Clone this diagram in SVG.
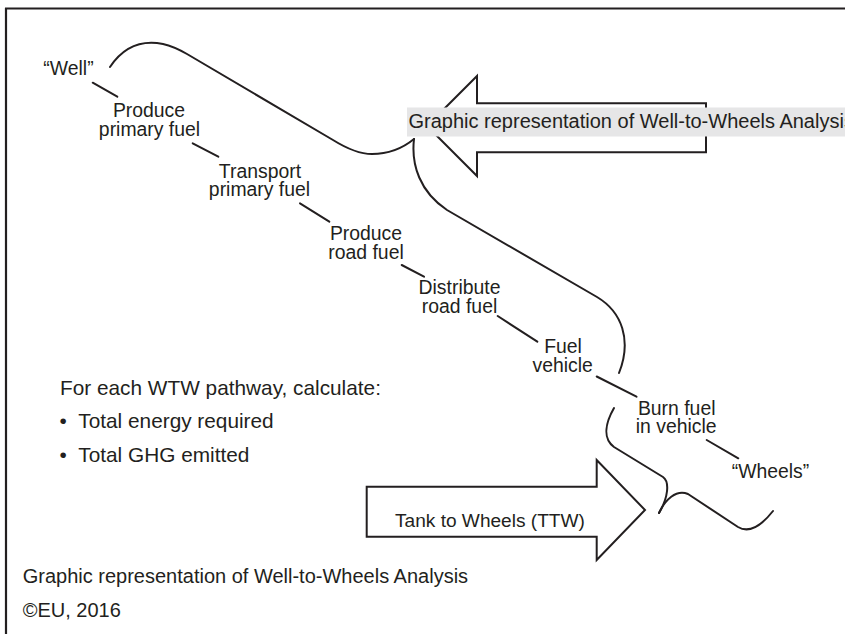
<svg xmlns="http://www.w3.org/2000/svg" width="845" height="634" viewBox="0 0 845 634">
  <style>
    text { font-family: "Liberation Sans", Arial, sans-serif; fill: #231f20; }
    .lbl { font-size: 19.4px; text-anchor: middle; }
    .note { font-size: 20.8px; }
    .cap { font-size: 20px; }
    .ln { fill: none; stroke: #231f20; stroke-width: 2; stroke-linecap: round; stroke-linejoin: round; }
    .arrow { fill: #ffffff; stroke: #231f20; stroke-width: 2; stroke-linejoin: miter; }
  </style>

  <rect x="0" y="0" width="845" height="634" fill="#ffffff"/>

  <!-- frame -->
  <g id="frame">
    <line x1="5" y1="8.5" x2="845" y2="8.5" stroke="#231f20" stroke-width="2.2"/>
    <line x1="6" y1="8" x2="6" y2="634" stroke="#231f20" stroke-width="2.2"/>
  </g>

  <!-- braces grouping the pathway stages -->
  <g id="braces">
    <path class="ln" d="M110,67 C124,46 143,40 163,44 C172,46 180,50 187,54 L333,140 C349,150 360,154 372,154 C390,154 403,148 414,139"/>
    <path class="ln" d="M414,139 C411,165 420,192 447,210 L597,297 C622,312 632,340 619,373"/>
    <path class="ln" d="M614,408 C606,422 602,438 614,447 L663,477 C670,482 668,498 659,513"/>
    <path class="ln" d="M659,513 C665,500 676,489 688,494 L738,527 C750,534 762,525 773,511"/>
  </g>

  <!-- Well-to-Wheels arrow -->
  <g id="wtw-arrow">
    <polygon class="arrow" points="427,126 477,76 477,103.3 706,103.3 706,152.3 477,152.3 477,176"/>
    <rect x="407" y="107.5" width="440" height="29" fill="#e6e6e7"/>
    <text x="408.5" y="127.5" font-size="20px">Graphic representation of Well-to-Wheels Analysis</text>
  </g>

  <!-- Tank-to-Wheels arrow -->
  <g id="ttw-arrow">
    <polygon class="arrow" points="366.7,486.7 596.7,486.7 596.7,460 645,510 596.7,560 596.7,536.7 366.7,536.7"/>
    <text x="395" y="526.5" font-size="19.1px">Tank to Wheels (TTW)</text>
  </g>

  <!-- connectors between stages -->
  <g id="connectors">
    <line class="ln" x1="92.7" y1="82.7" x2="117.3" y2="96.7"/>
    <line class="ln" x1="192.7" y1="143.3" x2="218.3" y2="156.7"/>
    <line class="ln" x1="300" y1="203.3" x2="329.3" y2="221.7"/>
    <line class="ln" x1="401.7" y1="265" x2="424" y2="276.7"/>
    <line class="ln" x1="497.7" y1="316" x2="537.3" y2="341.7"/>
    <line class="ln" x1="596.7" y1="376.5" x2="636.5" y2="396.7"/>
    <line class="ln" x1="706.7" y1="440" x2="738.3" y2="458.3"/>
  </g>

  <!-- stages -->
  <g id="well"><text class="lbl" x="68.5" y="75.3">“Well”</text></g>
  <g id="produce-primary"><text class="lbl" x="149" y="117">Produce</text><text class="lbl" x="149.5" y="136">primary fuel</text></g>
  <g id="transport-primary"><text class="lbl" x="260" y="178">Transport</text><text class="lbl" x="259.5" y="196.3">primary fuel</text></g>
  <g id="produce-road"><text class="lbl" x="366" y="240">Produce</text><text class="lbl" x="366" y="258.5">road fuel</text></g>
  <g id="distribute-road"><text class="lbl" x="459.5" y="294">Distribute</text><text class="lbl" x="459.5" y="312.7">road fuel</text></g>
  <g id="fuel-vehicle"><text class="lbl" x="563" y="353.3">Fuel</text><text class="lbl" x="562.7" y="371.7">vehicle</text></g>
  <g id="burn-fuel"><text class="lbl" x="676.7" y="415">Burn fuel</text><text class="lbl" x="676.2" y="433.3">in vehicle</text></g>
  <g id="wheels"><text class="lbl" x="770.5" y="478.3">“Wheels”</text></g>

  <!-- notes -->
  <g id="notes">
    <text class="note" x="60" y="395">For each WTW pathway, calculate:</text>
    <text class="note" x="59.5" y="428.3">•</text>
    <text class="note" x="78.3" y="428.3">Total energy required</text>
    <text class="note" x="59.5" y="461.7">•</text>
    <text class="note" x="78.3" y="461.7">Total GHG emitted</text>
  </g>

  <g id="caption">
    <text class="cap" x="22.7" y="583">Graphic representation of Well-to-Wheels Analysis</text>
    <text class="cap" x="22.7" y="616.5" font-size="19.5px">©EU, 2016</text>
  </g>
</svg>
